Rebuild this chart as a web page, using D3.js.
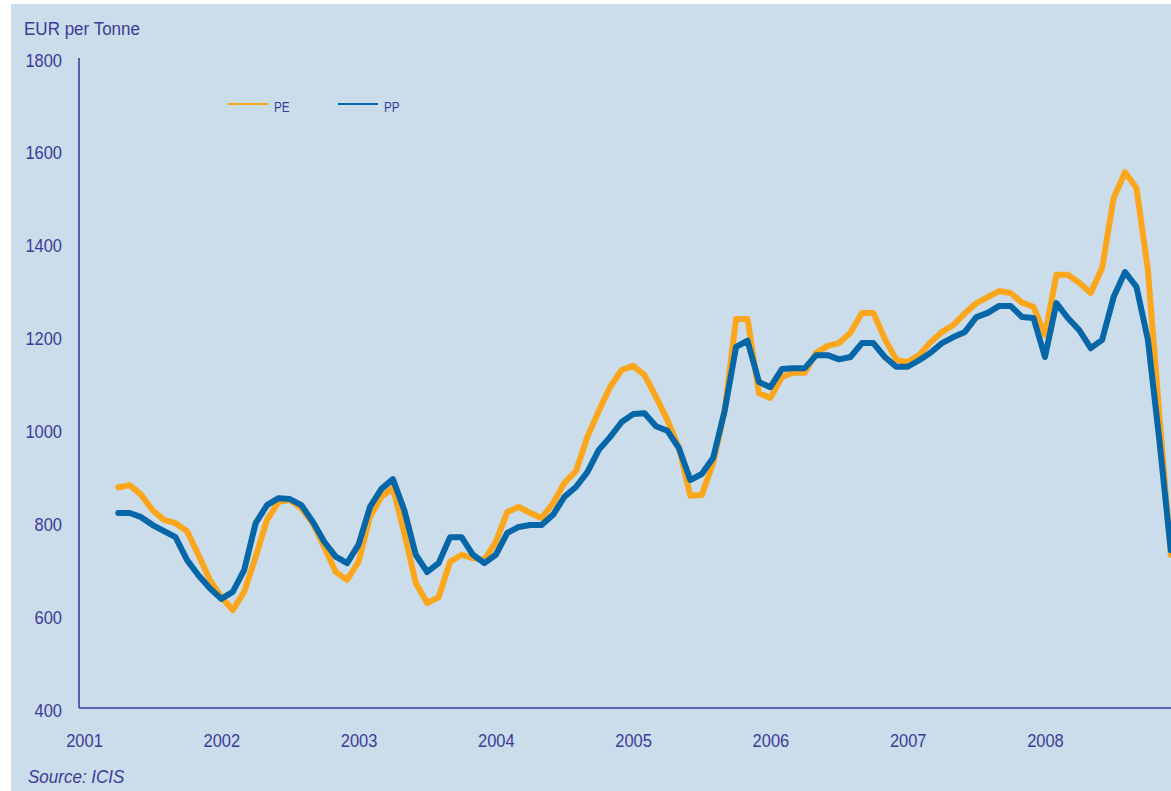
<!DOCTYPE html>
<html>
<head>
<meta charset="utf-8">
<script src="https://cdn.jsdelivr.net/npm/d3@7"></script>
<style>
  html, body { margin: 0; padding: 0; background: #fff; }
  svg text { font-family: "Liberation Sans", Arial, sans-serif; fill: #3b3b98; }
</style>
</head>
<body>
<script>
  // Year labels on the x axis (one tick every January)
  const years = ["2001", "2002", "2003", "2004", "2005", "2006", "2007", "2008"];
  // First point is April 2001 (month 3 counted from Jan 2001), monthly after that
  const firstMonth = 3;
  const yTicks = [400, 600, 800, 1000, 1200, 1400, 1600, 1800];

  // PE price, EUR per tonne
  const pe = [
    875, 880, 859, 826, 805, 798, 781, 730, 676,
    639, 611, 650, 725, 805, 844, 848, 830, 798, 747, 693, 676,
    715, 812, 855, 874, 777, 669, 626, 639, 715, 730, 723, 719,
    758, 822, 833, 820, 809, 841, 885, 910, 984, 1040, 1092, 1128,
    1137, 1117, 1070, 1020, 960, 857, 859, 928, 1040, 1238, 1238, 1078,
    1068, 1113, 1122, 1122, 1165, 1180, 1186, 1208, 1251, 1251, 1195, 1150,
    1145, 1160, 1188, 1210, 1225, 1250, 1272, 1285, 1298, 1294, 1273, 1264,
    1204, 1333, 1333, 1316, 1294, 1348, 1498, 1554, 1520, 1343, 1030, 730
  ];

  // PP price, EUR per tonne
  const pp = [
    820, 820, 811, 794, 781, 768, 719, 686, 658,
    635, 650, 697, 798, 837, 852, 850, 837, 801, 758, 726, 712,
    752, 833, 872, 893, 826, 730, 693, 712, 768, 768, 730, 712,
    730, 777, 790, 794, 794, 816, 855, 876, 908, 956, 984, 1016,
    1033, 1035, 1007, 997, 960, 891, 904, 939, 1040, 1178, 1191, 1102,
    1091, 1130, 1132, 1132, 1160, 1160, 1151, 1156, 1186, 1186, 1156, 1135,
    1135, 1149, 1165, 1186, 1199, 1210, 1242, 1251, 1266, 1266, 1242, 1240,
    1156, 1272, 1240, 1214, 1175, 1193, 1285, 1339, 1307, 1193, 977, 740
  ];

  const width = 1171;
  const height = 791;
  const squeeze = 0.89; // the original type is a bit condensed

  const svg = d3.select("body")
    .append("svg")
    .attr("width", width)
    .attr("height", height);

  // background panel (thin white margin on left and top)
  svg.append("rect")
    .attr("x", 11).attr("y", 4)
    .attr("width", width - 11).attr("height", height - 4)
    .attr("fill", "#cbdcea");

  // scales
  const x = d3.scaleLinear().domain([0, 96]).range([84, 84 + 96 * 11.44]);
  const y = d3.scaleLinear().domain([400, 1800]).range([708, 58]);

  // y axis
  const yAxis = svg.append("g")
    .attr("transform", "translate(79,0)")
    .call(d3.axisLeft(y).tickValues(yTicks).tickFormat(d3.format("d")).tickSize(0).tickPadding(0));
  yAxis.select(".domain").remove();
  yAxis.selectAll("text")
    .attr("x", -17 / squeeze)
    .attr("dy", "8")
    .attr("transform", `scale(${squeeze},1)`)
    .style("font-size", "18.5px")
    .style("fill", "#3b3b98");

  // x axis
  const xAxis = svg.append("g")
    .attr("transform", "translate(0,708)")
    .call(d3.axisBottom(x)
      .tickValues(d3.range(0, years.length * 12, 12))
      .tickFormat((d, i) => years[i])
      .tickSize(0));
  xAxis.select(".domain").remove();
  xAxis.selectAll("text")
    .attr("y", 39)
    .attr("dy", 0)
    .attr("transform", `scale(${squeeze},1)`)
    .style("font-size", "18.5px")
    .style("fill", "#3b3b98");

  // axis lines
  svg.append("line")
    .attr("x1", 79).attr("x2", 79)
    .attr("y1", y(1800)).attr("y2", y(400))
    .attr("stroke", "#3d3d9c").attr("stroke-width", 1.6);
  svg.append("line")
    .attr("x1", 79).attr("x2", width)
    .attr("y1", y(400)).attr("y2", y(400))
    .attr("stroke", "#3d3d9c").attr("stroke-width", 1.6);

  // series
  const line = d3.line()
    .x((d, i) => x(firstMonth + i))
    .y(d => y(d));

  const series = [
    { name: "PE", values: pe, color: "#fca61c" },
    { name: "PP", values: pp, color: "#0667a8" }
  ];

  svg.selectAll("path.series")
    .data(series)
    .enter()
    .append("path")
    .attr("class", "series")
    .attr("d", d => line(d.values))
    .attr("fill", "none")
    .attr("stroke", d => d.color)
    .attr("stroke-width", 6)
    .attr("stroke-linejoin", "round")
    .attr("stroke-linecap", "round");

  // legend
  const legend = svg.selectAll("g.legend")
    .data(series)
    .enter()
    .append("g")
    .attr("class", "legend")
    .attr("transform", (d, i) => `translate(${228 + i * 110},104)`);
  legend.append("line")
    .attr("x1", 0).attr("x2", 40)
    .attr("stroke", d => d.color)
    .attr("stroke-width", 2);
  legend.append("text")
    .attr("x", 46 / 0.78)
    .attr("y", 7.5)
    .attr("transform", "scale(0.78,1)")
    .style("font-size", "15px")
    .text(d => d.name);

  // title and source
  svg.append("text")
    .attr("transform", `translate(24,35) scale(0.92,1)`)
    .style("font-size", "18.5px")
    .text("EUR per Tonne");
  svg.append("text")
    .attr("transform", `translate(28,783) scale(0.92,1)`)
    .style("font-size", "18.5px")
    .style("font-style", "italic")
    .text("Source: ICIS");
</script>
</body>
</html>
